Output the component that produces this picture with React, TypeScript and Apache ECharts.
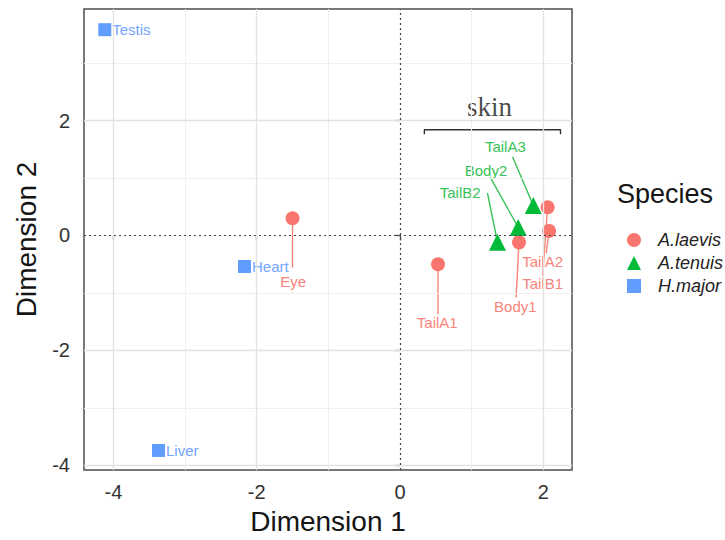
import React, { useEffect, useRef } from 'react';
import * as echarts from 'echarts';

const speciesNames = ['A.laevis', 'A.tenuis', 'H.major'];
const speciesColors = ['#F8766D', '#00BA38', '#619CFF'];
const speciesTextColors = ['#F8837B', '#38C258', '#72A6FF'];

const laevisTissues = ['Eye', 'TailA1', 'Body1', 'TailA2', 'TailB1'];
const laevisDim1 = [-1.5, 0.53, 1.66, 2.08, 2.06];
const laevisDim2 = [0.3, -0.5, -0.12, 0.08, 0.49];
const laevisLabelDim1 = [-1.49, 0.52, 1.61, 1.99, 1.99];
const laevisLabelDim2 = [-0.8, -1.51, -1.23, -0.45, -0.83];
const laevisSegDim1 = [-1.5, 0.53, 1.62, 2.04, 1.99];
const laevisSegDim2 = [-0.56, -1.37, -1.08, -0.31, -0.7];

const tenuisTissues = ['TailA3', 'Body2', 'TailB2'];
const tenuisDim1 = [1.86, 1.65, 1.36];
const tenuisDim2 = [0.52, 0.14, -0.12];
const tenuisLabelDim1 = [1.47, 1.2, 0.84];
const tenuisLabelDim2 = [1.55, 1.13, 0.75];
const tenuisSegDim1 = [1.57, 1.26, 1.22];
const tenuisSegDim2 = [1.37, 1.01, 0.74];

const hmajorTissues = ['Testis', 'Heart', 'Liver'];
const hmajorDim1 = [-4.12, -2.17, -3.37];
const hmajorDim2 = [3.58, -0.54, -3.74];

const xTicks = [-4, -2, 0, 2];
const yTicks = [-4, -2, 0, 2];
const xMajorGrid = [-4, -2, 2];
const yMajorGrid = [-4, -2, 2];
const xMinorGrid = [-3, -1, 1];
const yMinorGrid = [-3, -1, 1, 3];
const xRange = [-4.41, 2.4];
const yRange = [-4.08, 3.94];

const skinBracketDim1 = [0.34, 0.34, 2.24, 2.24];
const skinBracketDim2 = [1.76, 1.84, 1.84, 1.76];
const skinLabel = 'skin';
const skinLabelDim1 = [1.25];
const skinLabelDim2 = [2.23];

const FONT = '"Liberation Sans", Arial, Helvetica, sans-serif';

function labelSeries(
  tissues: string[], d1: number[], d2: number[], lx: number[], ly: number[],
  sx: number[], sy: number[], color: string
): any {
  return {
    type: 'custom',
    coordinateSystem: 'cartesian2d',
    z: 2,
    silent: true,
    clip: false,
    data: tissues.map((_, i) => [d1[i], d2[i], lx[i], ly[i], sx[i], sy[i]]),
    encode: { x: [0, 2, 4], y: [1, 3, 5] },
    renderItem: (params: any, api: any) => {
      const p = api.coord([api.value(0), api.value(1)]);
      const l = api.coord([api.value(2), api.value(3)]);
      const s = api.coord([api.value(4), api.value(5)]);
      return {
        type: 'group',
        children: [
          {
            type: 'line',
            shape: { x1: p[0], y1: p[1], x2: s[0], y2: s[1] },
            style: { stroke: color, lineWidth: 1.4 },
          },
          {
            type: 'text',
            style: {
              text: tissues[params.dataIndex],
              x: l[0],
              y: l[1],
              align: 'center',
              verticalAlign: 'middle',
              fill: color,
              fontSize: 15,
              fontFamily: FONT,
            },
          },
        ],
      };
    },
  };
}

export default function App() {
  const ref = useRef<HTMLDivElement>(null);

  useEffect(() => {
    if (!ref.current) return;
    const chart = echarts.init(ref.current, null, { renderer: 'svg' });

    const gridLines: any[] = [
      ...xMinorGrid.map((v) => ({ xAxis: v, lineStyle: { color: '#EFEFEF', width: 1, type: 'solid' } })),
      ...yMinorGrid.map((v) => ({ yAxis: v, lineStyle: { color: '#EFEFEF', width: 1, type: 'solid' } })),
      ...xMajorGrid.map((v) => ({ xAxis: v, lineStyle: { color: '#E2E2E2', width: 1.3, type: 'solid' } })),
      ...yMajorGrid.map((v) => ({ yAxis: v, lineStyle: { color: '#E2E2E2', width: 1.3, type: 'solid' } })),
      { xAxis: 0, lineStyle: { color: '#444', width: 1.2, type: [2, 3] } },
      { yAxis: 0, lineStyle: { color: '#444', width: 1.2, type: [2, 3] } },
    ];

    const option: any = {
      animation: false,
      backgroundColor: '#ffffff',
      textStyle: { fontFamily: FONT },
      grid: {
        left: 84,
        right: 153,
        top: 9,
        bottom: 69,
        containLabel: false,
        show: true,
        borderColor: '#4D4D4D',
        borderWidth: 1.5,
      },
      xAxis: {
        type: 'value',
        min: xRange[0],
        max: xRange[1],
        splitLine: { show: false },
        axisLine: { show: false },
        axisTick: { show: true, length: 5, customValues: xTicks, lineStyle: { color: '#4D4D4D', width: 1.3 } },
        axisLabel: { customValues: xTicks, fontSize: 20, color: '#333', margin: 12, fontFamily: FONT },
        name: 'Dimension 1',
        nameLocation: 'middle',
        nameGap: 37,
        nameTextStyle: { fontSize: 28, color: '#151515', fontFamily: FONT },
      },
      yAxis: {
        type: 'value',
        min: yRange[0],
        max: yRange[1],
        splitLine: { show: false },
        axisLine: { show: false },
        axisTick: { show: true, length: 5, customValues: yTicks, lineStyle: { color: '#4D4D4D', width: 1.3 } },
        axisLabel: { customValues: yTicks, fontSize: 20, color: '#333', margin: 14, fontFamily: FONT },
        name: 'Dimension 2',
        nameLocation: 'middle',
        nameRotate: 90,
        nameGap: 44,
        nameTextStyle: { fontSize: 28, color: '#151515', fontFamily: FONT },
      },
      legend: {
        data: speciesNames,
        orient: 'vertical',
        left: 622,
        top: 226,
        itemWidth: 14,
        itemHeight: 14,
        itemGap: 5,
        selectedMode: false,
        textStyle: {
          fontSize: 18,
          lineHeight: 18,
          fontStyle: 'italic',
          color: '#222',
          padding: [0, 0, 0, 12],
          fontFamily: FONT,
        },
      },
      graphic: [
        {
          type: 'text',
          left: 617,
          top: 180,
          style: { text: 'Species', fontSize: 27, fill: '#151515', fontFamily: FONT },
        },
      ],
      series: [
        {
          type: 'line',
          data: [],
          silent: true,
          z: 1,
          markLine: {
            silent: true,
            symbol: ['none', 'none'],
            label: { show: false },
            emphasis: { disabled: true },
            data: gridLines,
          },
        },
        {
          type: 'line',
          data: skinBracketDim1.map((x, i) => [x, skinBracketDim2[i]]),
          symbol: 'none',
          silent: true,
          z: 2,
          lineStyle: { color: '#333', width: 1.4 },
        },
        {
          type: 'scatter',
          data: skinLabelDim1.map((x, i) => [x, skinLabelDim2[i]]),
          symbolSize: 0,
          silent: true,
          z: 2,
          label: {
            show: true,
            position: 'inside',
            formatter: skinLabel,
            fontFamily: '"Liberation Serif", "DejaVu Serif", serif',
            fontSize: 27,
            color: '#1a1a1a',
          },
        },
        labelSeries(laevisTissues, laevisDim1, laevisDim2, laevisLabelDim1, laevisLabelDim2, laevisSegDim1, laevisSegDim2, speciesTextColors[0]),
        labelSeries(tenuisTissues, tenuisDim1, tenuisDim2, tenuisLabelDim1, tenuisLabelDim2, tenuisSegDim1, tenuisSegDim2, speciesTextColors[1]),
        {
          name: speciesNames[0],
          type: 'scatter',
          symbol: 'circle',
          symbolSize: 14,
          z: 3,
          itemStyle: { color: speciesColors[0], opacity: 1 },
          data: laevisDim1.map((x, i) => [x, laevisDim2[i]]),
        },
        {
          name: speciesNames[1],
          type: 'scatter',
          symbol: 'triangle',
          symbolSize: 17,
          z: 3,
          itemStyle: { color: speciesColors[1], opacity: 1 },
          data: tenuisDim1.map((x, i) => [x, tenuisDim2[i]]),
        },
        {
          name: speciesNames[2],
          type: 'scatter',
          symbol: 'rect',
          symbolSize: 13,
          z: 3,
          itemStyle: { color: speciesColors[2], opacity: 1 },
          data: hmajorDim1.map((x, i) => [x, hmajorDim2[i]]),
          label: {
            show: true,
            position: 'right',
            distance: 1,
            formatter: (p: any) => hmajorTissues[p.dataIndex],
            color: speciesTextColors[2],
            fontSize: 15,
            fontFamily: FONT,
          },
        },
      ],
    };

    chart.setOption(option);
    return () => chart.dispose();
  }, []);

  return <div ref={ref} style={{ width: 725, height: 540, position: 'absolute', left: 0, top: 0 }} />;
}
